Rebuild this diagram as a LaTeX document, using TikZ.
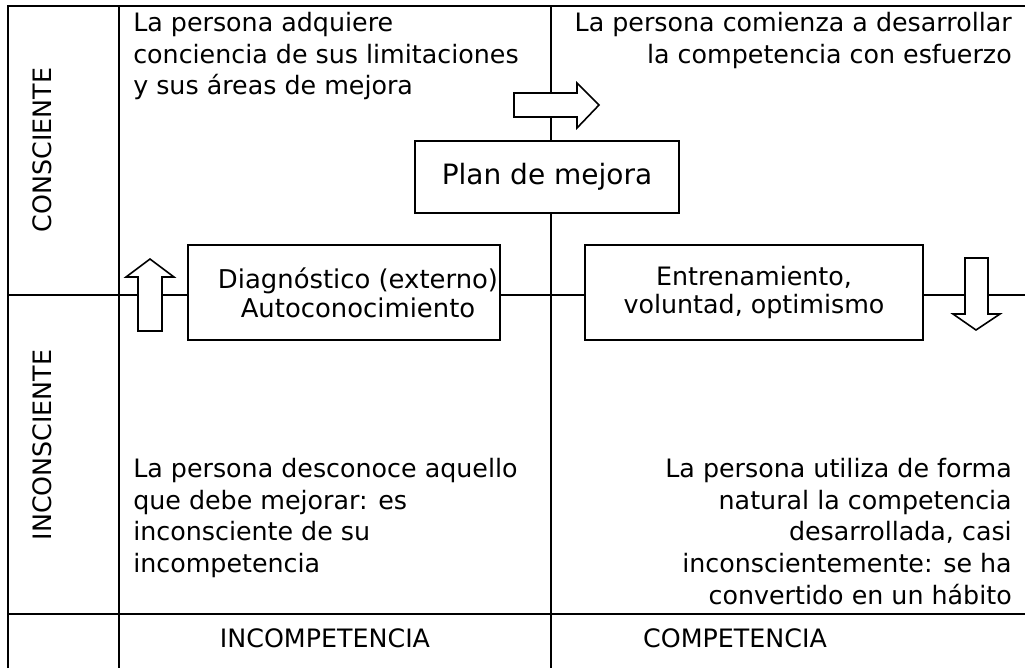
\documentclass[tikz,border=0pt]{standalone}
\usepackage{fontspec}
\setmainfont{DejaVu Sans}
\begin{document}
\begin{tikzpicture}[x=0.75pt,y=-0.75pt,
    grid/.style={line width=1.8pt},
    box/.style={draw, line width=1.6pt, fill=white, align=center, inner sep=0pt},
    blockarrow/.style={draw, line width=1.2pt, fill=white, line join=miter},
    txt/.style={inner sep=0pt, font=\fontsize{19}{23.8}\selectfont}]
  \fill[white] (0,0) rectangle (1025,668);
  \useasboundingbox (0,0) rectangle (1025,668);
  % grid of the table
  \coordinate (tl) at (8,6);
  \draw[grid] (8,668) -- (tl) -- (1025,6);
  \draw[grid] (119,6) -- (119,668);
  \draw[grid] (551,6) -- (551,668);
  \draw[grid] (8,295) -- (1025,295);
  \draw[grid] (8,614) -- (1025,614);
  % row and column headings
  \node[txt, rotate=90] (cons) at (42,150) {CONSCIENTE};
  \node[txt, rotate=90] (incons) at (42,445) {INCONSCIENTE};
  \node[txt] (incomp) at (325,638) {INCOMPETENCIA};
  \node[txt] (comp) at (735,638) {COMPETENCIA};
  % quadrant texts
  \node[txt, anchor=north west, align=left] (q1) at (133,12)
    {La persona adquiere\\conciencia de sus limitaciones\\y sus áreas de mejora};
  \node[txt, anchor=north east, align=right] (q2) at (1012,12)
    {La persona comienza a desarrollar\\la competencia con esfuerzo};
  \node[txt, anchor=north west, align=left] (q3) at (133,458)
    {La persona desconoce aquello\\que debe mejorar: es\\inconsciente de su\\incompetencia};
  \node[txt, anchor=north east, align=right] (q4) at (1012,458)
    {La persona utiliza de forma\\natural la competencia\\desarrollada, casi\\inconscientemente: se ha\\convertido en un hábito};
  % boxes
  \node[box, minimum width=198pt, minimum height=54pt, font=\fontsize{21}{25}\selectfont] (plan) at (547,177) {Plan de mejora};
  \node[box, minimum width=234pt, minimum height=71pt] (diag) at (344,292.5) {};
  \node[txt, align=center, font=\fontsize{19.4}{21.5}\selectfont] (diagtxt) at (358,292.5)
    {Diagnóstico (externo)\\Autoconocimiento};
  \node[box, minimum width=253.5pt, minimum height=71pt, font=\fontsize{19}{21.5}\selectfont] (entr) at (754,292.5)
    {Entrenamiento,\\voluntad, optimismo};
  % block arrows
  \draw[blockarrow] (138,331) -- (138,277) -- (126,277) -- (150,259) -- (174,277) -- (162,277) -- (162,331) -- cycle;
  \draw[blockarrow] (514,93) -- (577,93) -- (577,83) -- (599,105) -- (577,128) -- (577,117) -- (514,117) -- cycle;
  \draw[blockarrow] (965,258) -- (965,314) -- (953,314) -- (976,330) -- (1000,314) -- (988,314) -- (988,258) -- cycle;
\end{tikzpicture}
\end{document}
